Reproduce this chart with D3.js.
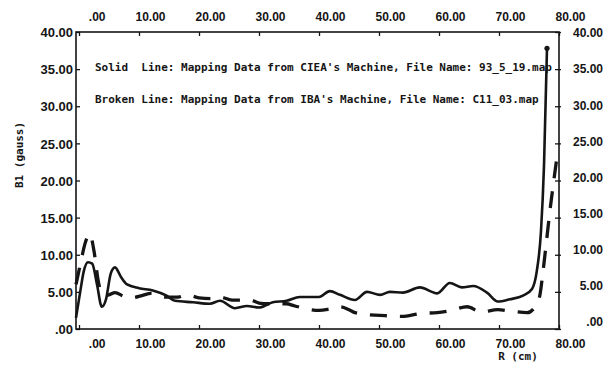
<!DOCTYPE html>
<html><head><meta charset="utf-8">
<script src="https://cdn.jsdelivr.net/npm/d3@7"></script>
<style>
body{margin:0;background:#fff;}
svg{display:block;}
</style></head>
<body><svg id="c" width="610" height="370"></svg>
<script>
const xTicks = [0,10,20,30,40,50,60,70,80];
const yTicks = [0,5,10,15,20,25,30,35,40];
const titleY = "B1 (gauss)";
const titleX = "R (cm)";
const notes = [
  "Solid  Line: Mapping Data from CIEA's Machine, File Name: 93_5_19.map",
  "Broken Line: Mapping Data from IBA's Machine, File Name: C11_03.map"
];
// Solid line (CIEA)
const solidR = [-0.5,0.2,0.8,1.5,2.2,3.0,3.8,4.5,5.3,6.0,7.0,8.0,10,12.3,14.6,16,19,21.8,23.5,26,28,30,32.3,34.6,36.8,40,41.8,43.5,46,48,50.2,51.8,54,56.8,59.7,61.8,63.8,65.7,68,69.8,71.8,74,75.5,76.3,77,77.5,78];
const solidB = [1.5,5.0,7.8,9.0,8.8,6.0,3.0,4.0,7.5,8.3,7.0,6.0,5.5,5.2,4.5,3.8,3.6,3.4,3.8,2.8,3.1,2.9,3.6,3.8,4.3,4.3,5.1,4.6,3.9,5.0,4.6,5.0,4.9,5.6,4.8,6.2,5.6,5.8,4.9,3.7,4.0,4.5,5.4,7.8,13.2,22,37.8];
// Broken line (IBA)
const brokenR = [-0.5,0.3,1.0,1.8,2.5,3.2,4.0,5.0,6.0,7.5,8.8,10.5,12,14.5,16.5,18,20,22,23.5,25.5,28.5,30,31.5,34.5,36,38,40,41.8,43.5,45,46,48.5,51,53.8,57,59.7,62,64.7,67,69.8,72,74.7,76,76.8,77.3,77.8,78.5,79.3,79.8];
const brokenB = [6.0,9.0,11.5,12.8,10.5,6.5,4.5,4.6,4.9,4.4,4.2,4.5,4.8,4.3,4.3,4.6,4.2,4.1,4.3,3.9,3.9,3.5,3.4,3.4,3.1,2.7,2.5,2.7,3.0,2.6,2.2,1.9,1.8,1.7,2.1,2.2,2.5,3.0,2.3,2.6,2.4,2.2,3.0,4.5,7.5,11,16,21,24];

const ink = "#151515";
const svg = d3.select("#c");
svg.append("rect").attr("width",610).attr("height",370).attr("fill","#fff");

const L=76, R=559, T=32, B=329;
const x = d3.scaleLinear().domain([-0.5,80]).range([L,R]);
const y = d3.scaleLinear().domain([0,40]).range([B,T]);
const yR = d3.scaleLinear().domain([0,40]).range([322,33]);
const fmt = v => d3.format(".2f")(v).replace(/^0\./,".");
const tickFont = "bold 12px 'Liberation Sans', Arial, sans-serif";
const leftFont = "bold 13px 'Liberation Sans', Arial, sans-serif";

function styleAxis(g){
  g.select(".domain").remove();
  g.selectAll(".tick line").attr("stroke",ink).attr("stroke-width",1.3);
  g.selectAll("text").attr("fill",ink).style("font",tickFont);
}

// bottom
const gb = svg.append("g").attr("transform",`translate(0,${B})`)
  .call(d3.axisBottom(x).tickValues(xTicks).tickFormat(fmt).tickSizeInner(-4).tickSizeOuter(0));
styleAxis(gb);
gb.selectAll("text").attr("text-anchor","end").attr("dx",26).attr("y",19).attr("dy",0);
// top
const gt = svg.append("g").attr("transform",`translate(0,${T})`)
  .call(d3.axisTop(x).tickValues(xTicks).tickFormat(fmt).tickSizeInner(-4).tickSizeOuter(0));
styleAxis(gt);
gt.selectAll("text").attr("text-anchor","end").attr("dx",26).attr("y",-11).attr("dy",0);
// left
const gl = svg.append("g").attr("transform",`translate(${L},0)`)
  .call(d3.axisLeft(y).tickValues(yTicks).tickFormat(fmt).tickSizeInner(-4).tickSizeOuter(0));
styleAxis(gl);
gl.selectAll("text").attr("x",-3).attr("dy","0.36em").style("font",leftFont);
// right ticks
const gr = svg.append("g").attr("transform",`translate(${R},0)`)
  .call(d3.axisRight(y).tickValues(yTicks).tickFormat("").tickSizeInner(-4).tickSizeOuter(0));
styleAxis(gr);
gr.selectAll(".tick line").attr("x1",2);
// right labels
svg.append("g").selectAll("text").data(yTicks).join("text")
  .attr("x",603).attr("y",d=>yR(d)).attr("dy","0.36em")
  .attr("text-anchor","end").attr("fill",ink).style("font",tickFont).text(fmt);

// frame
svg.append("rect").attr("x",L).attr("y",T).attr("width",R-L).attr("height",B-T)
  .attr("fill","none").attr("stroke",ink).attr("stroke-width",1.6);

// titles
svg.append("text").attr("transform",`translate(23,155) rotate(-90)`)
  .attr("text-anchor","middle").attr("fill",ink)
  .style("font","bold 11px 'DejaVu Sans Mono', monospace").text(titleY);
svg.append("text").attr("x",518).attr("y",360).attr("text-anchor","middle").attr("fill",ink)
  .style("font","bold 11px 'DejaVu Sans Mono', monospace").text(titleX);

// notes
svg.append("g").selectAll("text").data(notes).join("text")
  .attr("x",95).attr("y",(d,i)=>71+i*32).attr("fill",ink)
  .style("font","bold 11px 'DejaVu Sans Mono', monospace")
  .attr("xml:space","preserve").style("white-space","pre").text(d=>d);

// lines
const solid = solidR.map((r,i)=>[r,solidB[i]]);
const broken = brokenR.map((r,i)=>[r,brokenB[i]]);
const line = d3.line().x(d=>x(d[0])).y(d=>y(d[1])).curve(d3.curveMonotoneX);
svg.append("path").datum(solid).attr("d",line).attr("fill","none")
  .attr("stroke",ink).attr("stroke-width",2.6).attr("stroke-linejoin","round");
svg.append("path").datum(broken).attr("d",line).attr("fill","none")
  .attr("stroke",ink).attr("stroke-width",3.3).attr("stroke-dasharray","17,13");
const last = solid[solid.length-1];
svg.append("circle").attr("cx",x(last[0])).attr("cy",y(last[1])).attr("r",2.6).attr("fill",ink);
</script></body></html>
